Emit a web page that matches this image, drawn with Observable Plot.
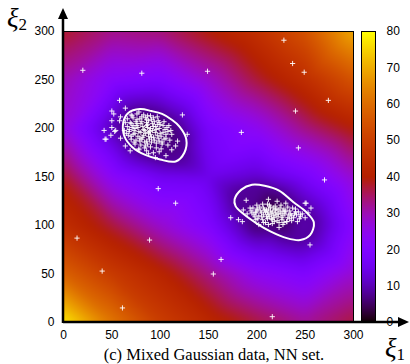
<!DOCTYPE html>
<html><head><meta charset="utf-8">
<script src="https://cdn.jsdelivr.net/npm/d3@7"></script>
<script src="https://cdn.jsdelivr.net/npm/@observablehq/plot@0.6"></script>
<style>
body{margin:0;background:#fff;}
#wrap{position:relative;width:410px;height:364px;overflow:hidden;}
#wrap svg{position:absolute;left:0;top:0;overflow:visible;}
</style></head><body><div id="wrap"></div>
<script>
// ---- data ----
const xTicks = [0, 50, 100, 150, 200, 250, 300];
const yTicks = [0, 50, 100, 150, 200, 250, 300];
const cbTicks = [0, 10, 20, 30, 40, 50, 60, 70, 80];

// background field, sampled on a 50-step grid (rows from y=300 down to y=0)
const gridX = [0, 50, 100, 150, 200, 250, 300];
const gridY = [300, 250, 200, 150, 100, 50, 0];
const gridV = [
  [38, 33, 34, 40, 46, 55, 70],
  [30, 22, 20, 28, 37, 45, 55],
  [27, 10, 5, 18, 24, 33, 40],
  [38, 23, 16, 15, 12, 18, 28],
  [45, 37, 28, 20, 5, 10, 22],
  [58, 49, 42, 33, 24, 20, 28],
  [78, 62, 50, 43, 37, 32, 37]
];
// extra field samples: cluster cores and ellipse rims
const coreX = [85, 218];
const coreY = [198, 113];
const coreV = [2, 2];
const rimV = 8;

// white contour curves
const ell1 = [[62,207],[67,216],[79,220],[91,218],[102,215],[112,209],[120,202],[127,189],[125,175],[116,166],[100,168],[84,173],[71,181],[63,192]];
const ell2 = [[177,127],[184,137],[195,142],[208,141],[223,136],[238,124],[251,114],[259,103],[255,90],[245,85],[231,87],[214,94],[200,102],[186,112],[178,120]];

// scatter points
const cluster1 = [
  [58,229],[50,218],[64,221],[52,215],[50,208],[58,208],[50,201],[42,198],[54,198],[49,193],[43,189],[59,190],
  [64,182],[69,177],[78,179],[88,174],[95,170],[106,172],[116,182],[118,187],[128,194],[112,194],[107,201],[102,186],
  [87,213],[78,217],[93,211],[99,206],[71,213],[123,214],[59,212],[44,189],[53,197],
  [70,214],[76,215],[83,214],[90,213],[97,212],
  [66,210],[72,211],[79,210],[85,211],[91,209],[98,208],[104,207],
  [64,206],[69,206],[75,207],[80,205],[86,206],[92,205],[97,204],[103,203],[109,203],
  [66,202],[71,201],[76,203],[82,202],[87,201],[93,202],[99,200],[105,199],[111,198],
  [63,198],[68,197],[73,198],[78,197],[84,198],[89,197],[95,196],[100,195],[106,194],
  [67,193],[72,194],[77,192],[83,193],[88,192],[93,191],[98,190],[104,189],[110,188],
  [70,189],[75,188],[81,189],[86,187],[91,186],[96,185],[102,184],[108,183],
  [74,184],[80,183],[85,182],[90,181],[96,180],[101,179],[112,178],
  [78,178],[86,177],[93,175],[99,176],[84,180],
  [74,200],[80,196],[86,203],[90,194],[96,199],[79,190],[70,205],[88,208],[94,188],[101,192],[84,186],[76,209],
  [81,207],[87,204],[83,199],[90,200],[77,201],[74,195],[85,195],[92,198],[95,202],[88,196],[82,191],[79,187],
  [89,189],[97,193],[103,196],[100,204],[94,207],[72,203],[68,199],[86,209],[81,212],[76,205],[91,191],[87,184],
  [99,187],[106,190],[70,192],[65,195],[108,197],[73,186]
];
const cluster2 = [
  [189,126],[173,108],[181,106],[185,104],[193,118],[199,113],[202,101],[212,127],[211,122],[221,125],[230,123],
  [237,118],[250,123],[256,118],[245,111],[250,108],[242,104],[231,104],[223,103],[212,101],[223,98],[207,103],[251,123],
  [200,121],[206,122],[213,121],[219,120],[225,121],[232,119],
  [196,118],[201,117],[207,118],[212,117],[217,118],[222,116],[228,117],[234,115],[240,114],
  [194,115],[199,114],[204,115],[209,114],[214,115],[219,113],[224,114],[229,112],[235,112],[241,111],[247,112],
  [197,111],[202,110],[207,111],[212,111],[217,110],[222,109],[227,110],[232,108],[238,108],[244,107],
  [201,107],[206,106],[211,107],[216,106],[221,105],[226,106],[231,104],[236,105],
  [209,103],[216,102],[227,101],
  [210,116],[215,112],[220,117],[225,112],[205,113],[230,115],[218,108],[213,109],[236,110],[198,109],[190,112],[186,116],[240,117],[253,113],
  [203,119],[208,116],[214,119],[219,116],[224,118],[229,114],[233,111],[226,108],[220,111],[215,107],[210,109],[205,109],
  [200,116],[195,113],[239,112],[243,114],[234,107],[228,103],[218,104],[211,113],[216,114],[222,112],[227,115],[245,109],[199,106]
];
const outliers = [
  [20,260],[81,257],[149,259],[228,291],[237,267],[249,258],[274,229],[240,218],[184,196],[243,180],[270,147],
  [98,138],[116,123],[14,87],[89,85],[40,53],[163,65],[155,50],[61,15],[216,6],[255,80]
];

// ---- build tables ----
const field = [];
gridY.forEach((y, i) => gridX.forEach((x, j) => field.push({x, y, v: gridV[i][j]})));
coreX.forEach((x, i) => field.push({x, y: coreY[i], v: coreV[i]}));
[...ell1, ...ell2].forEach(([x, y]) => field.push({x, y, v: rimV}));
const pts = [...cluster1, ...cluster2, ...outliers].map(([x, y]) => ({x, y}));
const e1 = ell1.map(([x, y]) => ({x, y}));
const e2 = ell2.map(([x, y]) => ({x, y}));

// gnuplot default palette (rgbformulae 7,5,15)
const gp = t => {
  t = Math.max(0, Math.min(1, t));
  const r = Math.sqrt(t), g = t * t * t, b = Math.max(0, Math.sin(2 * Math.PI * t));
  return `rgb(${Math.round(r*255)},${Math.round(g*255)},${Math.round(b*255)})`;
};
const colorScale = {type: "linear", domain: [0, 80], interpolate: gp};
const plusSym = {draw(ctx, size) { const r = Math.sqrt(size / Math.PI); ctx.moveTo(-r, 0); ctx.lineTo(r, 0); ctx.moveTo(0, -r); ctx.lineTo(0, r); }};
const font = {fontFamily: "'Liberation Sans', Arial, sans-serif", fontSize: "12px", background: "transparent", color: "#000"};

const W = 410, H = 364;
const main = Plot.plot({
  width: W, height: H,
  marginLeft: 63, marginRight: 57, marginTop: 31, marginBottom: 42,
  style: font,
  x: {domain: [0, 300], ticks: xTicks, tickSize: 0, tickPadding: 8, label: null},
  y: {domain: [0, 300], ticks: yTicks, tickSize: 0, tickPadding: 9, label: null},
  color: colorScale,
  marks: [
    Plot.raster(field, {x: "x", y: "y", fill: "v", interpolate: "barycentric", x1: 0, y1: 0, x2: 300, y2: 300, blur: 4}),
    Plot.line(e1, {x: "x", y: "y", curve: "catmull-rom-closed", stroke: "white", strokeWidth: 2}),
    Plot.line(e2, {x: "x", y: "y", curve: "catmull-rom-closed", stroke: "white", strokeWidth: 2}),
    Plot.dot(pts, {x: "x", y: "y", symbol: plusSym, r: 2.6, fill: "none", stroke: "white", strokeWidth: 1, strokeOpacity: 0.9}),
    Plot.frame({stroke: "black", strokeWidth: 1})
  ]
});

const cbar = Plot.plot({
  width: W, height: H,
  marginLeft: 361, marginRight: 35, marginTop: 31, marginBottom: 42,
  style: font,
  x: {domain: [0, 1], axis: null},
  y: {domain: [0, 80], ticks: cbTicks, tickSize: -4, tickPadding: 15, label: null, axis: "right"},
  color: colorScale,
  marks: [
    Plot.raster({fill: (x, y) => y, x1: 0, x2: 1, y1: 0, y2: 80}),
    Plot.frame({stroke: "black", strokeWidth: 1})
  ]
});

const wrap = document.getElementById("wrap");
wrap.appendChild(main);
wrap.appendChild(cbar);

// axis arrows and labels overlay
const sx = main.scale("x"), sy = main.scale("y");
const x0 = sx.apply(0), y0 = sy.apply(0);
const ov = d3.select(wrap).append("svg").attr("width", W).attr("height", H);
ov.append("line").attr("x1", x0).attr("x2", 399).attr("y1", y0).attr("y2", y0).attr("stroke", "black").attr("stroke-width", 2.5);
ov.append("path").attr("d", `M409,${y0}L398,${y0-5}L398,${y0+5}Z`).attr("fill", "black");
ov.append("line").attr("x1", x0).attr("x2", x0).attr("y1", y0 + 1).attr("y2", 18).attr("stroke", "black").attr("stroke-width", 2.5);
ov.append("path").attr("d", `M${x0},8L${x0-5},19L${x0+5},19Z`).attr("fill", "black");

const serif = "'Liberation Serif', 'DejaVu Serif', serif";
const t2 = ov.append("text").attr("x", 7).attr("y", 27).attr("font-family", serif).attr("font-size", 27);
t2.append("tspan").attr("font-style", "italic").text("ξ");
t2.append("tspan").attr("font-size", 17).attr("dy", 3).text("2");
const t1 = ov.append("text").attr("x", 385).attr("y", 357).attr("font-family", serif).attr("font-size", 27);
t1.append("tspan").attr("font-style", "italic").text("ξ");
t1.append("tspan").attr("font-size", 17).attr("dy", 3).text("1");
ov.append("text").attr("x", 214).attr("y", 360).attr("text-anchor", "middle")
  .attr("font-family", serif).attr("font-size", 16.5).text("(c) Mixed Gaussian data, NN set.");
</script></body></html>
